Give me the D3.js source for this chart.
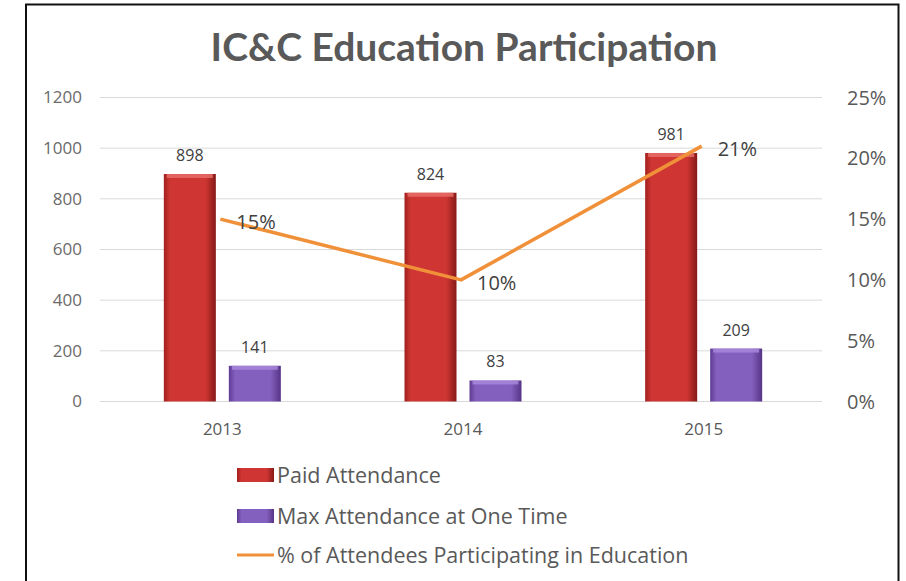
<!DOCTYPE html>
<html>
<head>
<meta charset="utf-8">
<script src="https://cdn.jsdelivr.net/npm/d3@7"></script>
<style>
  body { margin: 0; background: #fff; }
  svg text { font-family: "Open Sans", Lato, sans-serif; }
</style>
</head>
<body>
<div id="chart"></div>
<script>
// chart data
const years = ["2013", "2014", "2015"];
const paidAttendance = [898, 824, 981];
const maxAttendance = [141, 83, 209];
const pctEducation = [0.15, 0.10, 0.21];
const leftTicks = [0, 200, 400, 600, 800, 1000, 1200];
const rightTicks = [0, 0.05, 0.10, 0.15, 0.20, 0.25];
const seriesNames = ["Paid Attendance", "Max Attendance at One Time", "% of Attendees Participating in Education"];

const W = 906, H = 581;
const svg = d3.select('#chart').append('svg')
    .attr('width', W)
    .attr('height', H);

const defs = svg.append('defs');
function barGrad(id, edge, mid, edge2) {
    const g = defs.append('linearGradient').attr('id', id)
        .attr('x1', '0%').attr('x2', '100%').attr('y1', '0%').attr('y2', '0%');
    g.append('stop').attr('offset', '0%').attr('stop-color', edge);
    g.append('stop').attr('offset', '12%').attr('stop-color', mid);
    g.append('stop').attr('offset', '80%').attr('stop-color', mid);
    g.append('stop').attr('offset', '100%').attr('stop-color', edge2);
}
barGrad('redGrad', '#A0201D', '#CF3633', '#861A18');
barGrad('purpleGrad', '#5E3B93', '#8460BE', '#553486');

// frame
svg.append('path')
    .attr('d', `M26,${H} V4.5 H898.5 V${H}`)
    .attr('fill', 'none')
    .attr('stroke', '#111')
    .attr('stroke-width', 2);

const plot = {left: 100, right: 822, top: 97.5, bottom: 401.5};

const x = d3.scaleBand().domain(years).range([plot.left, plot.right]);
const yL = d3.scaleLinear().domain([0, 1200]).range([plot.bottom, plot.top]);
const yR = d3.scaleLinear().domain([0, 0.25]).range([plot.bottom, plot.top]);

// title
svg.append('text')
    .attr('x', 464).attr('y', 61)
    .attr('text-anchor', 'middle')
    .style('font-family', 'Lato, sans-serif')
    .style('font-size', '39px')
    .style('font-weight', 'bold')
    .attr('fill', '#595959')
    .text('IC&C Education Participation');

// gridlines
svg.append('g').selectAll('line')
    .data(leftTicks)
    .join('line')
    .attr('x1', plot.left).attr('x2', plot.right)
    .attr('y1', d => yL(d)).attr('y2', d => yL(d))
    .attr('stroke', '#D9D9D9')
    .attr('stroke-width', 1);

// left axis labels
svg.append('g').selectAll('text')
    .data(leftTicks)
    .join('text')
    .attr('x', 82).attr('y', d => yL(d))
    .attr('dy', '0.35em')
    .attr('text-anchor', 'end')
    .style('font-size', '17px')
    .attr('fill', '#6a6a6a')
    .text(d => d);

// right axis labels
svg.append('g').selectAll('text')
    .data(rightTicks)
    .join('text')
    .attr('x', 847).attr('y', d => yR(d))
    .attr('dy', '0.35em')
    .style('font-size', '20px')
    .attr('fill', '#595959')
    .text(d => d3.format('.0%')(d));

// x labels
svg.append('g').selectAll('text')
    .data(years)
    .join('text')
    .attr('x', d => x(d) + x.bandwidth() / 2 + 2)
    .attr('y', 429)
    .attr('dy', '0.35em')
    .attr('text-anchor', 'middle')
    .style('font-size', '17px')
    .attr('fill', '#595959')
    .text(d => d);

const barW = 52, gap = 13;
const center = d => x(d) + x.bandwidth() / 2 + 2;

function drawBars(values, offset, fill, topCol, cls) {
    const g = svg.append('g').attr('class', cls);
    const data = years.map((yr, i) => ({yr, v: values[i]}));
    g.selectAll('rect.bar')
        .data(data)
        .join('rect')
        .attr('class', 'bar')
        .attr('x', d => center(d.yr) + offset)
        .attr('y', d => yL(d.v))
        .attr('width', barW)
        .attr('height', d => yL(0) - yL(d.v))
        .attr('fill', fill);
    g.selectAll('rect.top')
        .data(data)
        .join('rect')
        .attr('class', 'top')
        .attr('x', d => center(d.yr) + offset + 3)
        .attr('y', d => yL(d.v))
        .attr('width', barW - 6)
        .attr('height', 4)
        .attr('fill', topCol)
        .style('opacity', 0.8);
    g.selectAll('text')
        .data(data)
        .join('text')
        .attr('x', d => center(d.yr) + offset + barW / 2)
        .attr('y', d => yL(d.v) - 13)
        .attr('text-anchor', 'middle')
        .style('font-size', '16px')
        .attr('fill', '#404040')
        .text(d => d.v);
}
drawBars(paidAttendance, -barW - gap / 2, 'url(#redGrad)', '#E8716B', 'paid');
drawBars(maxAttendance, gap / 2, 'url(#purpleGrad)', '#A98BDD', 'max');

// line
const lineData = years.map((yr, i) => ({yr, v: pctEducation[i]}));
const line = d3.line()
    .x(d => x(d.yr) + x.bandwidth() / 2)
    .y(d => yR(d.v));
svg.append('path')
    .datum(lineData)
    .attr('d', line)
    .attr('fill', 'none')
    .attr('stroke', '#F0913A')
    .attr('stroke-width', 3.5)
    .attr('stroke-linejoin', 'round');

svg.append('g').selectAll('text')
    .data(lineData)
    .join('text')
    .attr('x', d => x(d.yr) + x.bandwidth() / 2 + 16)
    .attr('y', d => yR(d.v) + 3)
    .attr('dy', '0.35em')
    .style('font-size', '20px')
    .attr('fill', '#404040')
    .text(d => d3.format('.0%')(d.v));

// legend
const legend = svg.append('g');
const legendY = [475, 516, 555];
legend.append('rect')
    .attr('x', 237).attr('y', legendY[0] - 7).attr('width', 37).attr('height', 14)
    .attr('fill', 'url(#redGrad)');
legend.append('rect')
    .attr('x', 237).attr('y', legendY[1] - 7).attr('width', 37).attr('height', 14)
    .attr('fill', 'url(#purpleGrad)');
legend.append('line')
    .attr('x1', 237).attr('x2', 274)
    .attr('y1', legendY[2]).attr('y2', legendY[2])
    .attr('stroke', '#F0913A').attr('stroke-width', 3);
legend.selectAll('text')
    .data(seriesNames)
    .join('text')
    .attr('x', 277)
    .attr('y', (d, i) => legendY[i])
    .attr('dy', '0.35em')
    .style('font-size', '21.5px')
    .attr('fill', '#595959')
    .text(d => d);
</script>
</body>
</html>
